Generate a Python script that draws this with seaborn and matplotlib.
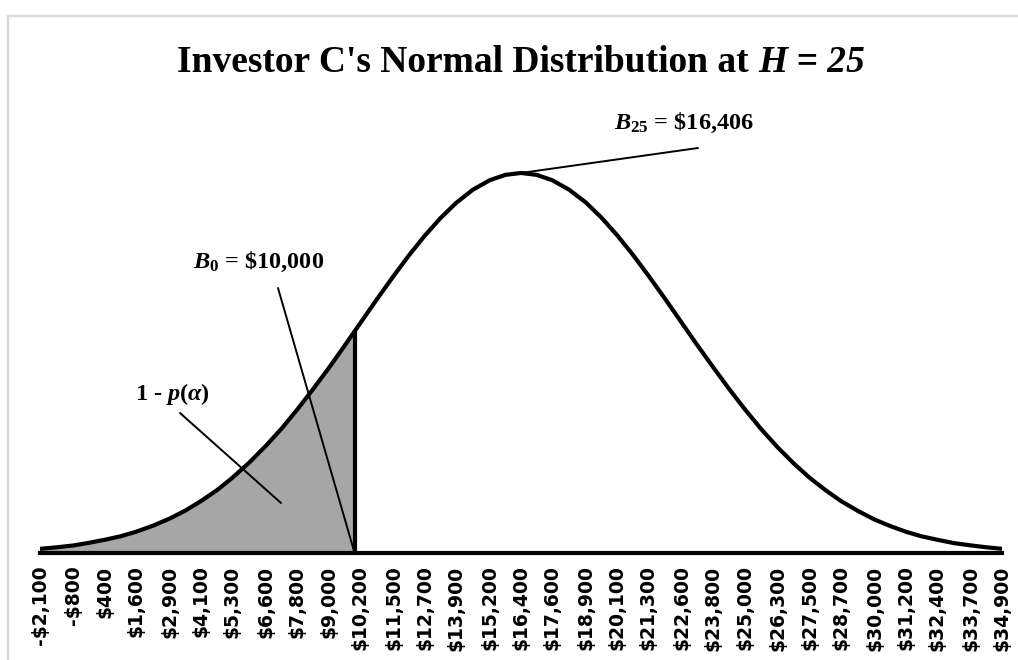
import matplotlib
matplotlib.use("Agg")
import matplotlib.pyplot as plt
import seaborn as sns
import pandas as pd
from matplotlib.lines import Line2D

# ---- data ----
tick_labels = ["-$2,100", "-$800", "$400", "$1,600", "$2,900", "$4,100", "$5,300",
               "$6,600", "$7,800", "$9,000", "$10,200", "$11,500", "$12,700",
               "$13,900", "$15,200", "$16,400", "$17,600", "$18,900", "$20,100",
               "$21,300", "$22,600", "$23,800", "$25,000", "$26,300", "$27,500",
               "$28,700", "$30,000", "$31,200", "$32,400", "$33,700", "$34,900"]
tick_values = [-2100, -800, 400, 1600, 2900, 4100, 5300, 6600, 7800, 9000, 10200,
               11500, 12700, 13900, 15200, 16400, 17600, 18900, 20100, 21300, 22600,
               23800, 25000, 26300, 27500, 28700, 30000, 31200, 32400, 33700, 34900]
# curve points: wealth and relative density (peak = 1)
curve_wealth = [-2100, -1450, -800, -200, 400, 1000, 1600, 2250, 2900, 3500, 4100,
                4700, 5300, 5950, 6600, 7200, 7800, 8400, 9000, 9600, 10200, 10850,
                11500, 12100, 12700, 13300, 13900, 14550, 15200, 15800, 16400, 17000,
                17600, 18250, 18900, 19500, 20100, 20700, 21300, 21950, 22600, 23200,
                23800, 24400, 25000, 25650, 26300, 26900, 27500, 28100, 28700, 29350,
                30000, 30600, 31200, 31800, 32400, 33050, 33700, 34300, 34900]
curve_density = [0.011, 0.015, 0.020, 0.027, 0.035, 0.044, 0.056, 0.072, 0.091, 0.112,
                 0.137, 0.165, 0.198, 0.238, 0.283, 0.328, 0.378, 0.431, 0.486, 0.544,
                 0.603, 0.667, 0.729, 0.784, 0.835, 0.881, 0.921, 0.956, 0.981, 0.995,
                 1.000, 0.995, 0.981, 0.956, 0.922, 0.882, 0.836, 0.785, 0.730, 0.668,
                 0.604, 0.545, 0.488, 0.432, 0.379, 0.325, 0.276, 0.235, 0.198, 0.166,
                 0.137, 0.111, 0.088, 0.071, 0.056, 0.044, 0.035, 0.026, 0.020, 0.015,
                 0.011]
b0_value = 10000
b0_density = 0.583
b25_value = 16406
b25_density = 1.000

df = pd.DataFrame({"wealth": curve_wealth, "density": curve_density})

sns.set_style("white")
plt.rcParams["font.family"] = ["Liberation Serif", "DejaVu Serif"]
plt.rcParams["text.color"] = "black"
plt.rcParams["xtick.color"] = "black"
plt.rcParams["mathtext.fontset"] = "custom"
plt.rcParams["mathtext.rm"] = "Liberation Serif:bold"
plt.rcParams["mathtext.bf"] = "Liberation Serif:bold"
plt.rcParams["mathtext.it"] = "Liberation Serif:italic:bold"

W, H = 1018, 660
fig = plt.figure(figsize=(W / 100, H / 100), dpi=100)
XMIN, XMAX, YMAX = -2100, 34900, 1.192
ax_l, ax_r, ax_b, ax_t = 40, 1002, 553, 100
ax = fig.add_axes([ax_l / W, 1 - ax_b / H, (ax_r - ax_l) / W, (ax_b - ax_t) / H])

# shaded tail up to B0
shade = df[df["wealth"] < b0_value]
sx = list(shade["wealth"]) + [b0_value]
sy = list(shade["density"]) + [b0_density]
ax.fill_between(sx, 0, sy, color="#a6a6a6", lw=0, zorder=1)
ax.plot([b0_value, b0_value], [0, b0_density], color="black", lw=3, zorder=3)

sns.lineplot(data=df, x="wealth", y="density", ax=ax, color="black", lw=3,
             zorder=4, solid_capstyle="round", solid_joinstyle="round")

ax.set_xlim(XMIN, XMAX)
ax.set_ylim(0, YMAX)
ax.set_xlabel("")
ax.set_ylabel("")
ax.set_yticks([])
ax.set_xticks(tick_values)
ax.set_xticklabels(tick_labels, rotation=90, fontsize=13.5, fontweight="bold",
                   family="DejaVu Sans", color="black")
ax.tick_params(axis="x", length=0, pad=9)
for s in ["top", "left", "right"]:
    ax.spines[s].set_visible(False)
ax.spines["bottom"].set_color("black")
ax.spines["bottom"].set_linewidth(3)
ax.patch.set_alpha(0)


def px2x(px):
    return XMIN + (px - ax_l) / (ax_r - ax_l) * (XMAX - XMIN)


def py2y(py):
    return (ax_b - py) / (ax_b - ax_t) * YMAX


lp = dict(arrowstyle="-", lw=1.4, color="black", shrinkA=0, shrinkB=0)
ax.annotate("", xy=(b0_value, 0), xytext=(px2x(278), py2y(288)), arrowprops=lp)
ax.annotate("", xy=(px2x(281), py2y(503)), xytext=(px2x(180), py2y(413)), arrowprops=lp)
ax.annotate("", xy=(b25_value, b25_density), xytext=(px2x(698), py2y(148)), arrowprops=lp)

fig.text(259 / W, 1 - 262 / H, r"$B_{\mathrm{0}}$ = \$10,000", ha="center", va="center",
         fontsize=17.5, fontweight="bold")
fig.text(172 / W, 1 - 394 / H, r"1 - $p(\alpha)$", ha="center", va="center",
         fontsize=17.5, fontweight="bold")
fig.text(684 / W, 1 - 123 / H, r"$B_{\mathrm{25}}$ = \$16,406", ha="center", va="center",
         fontsize=17.5, fontweight="bold")

# title: bold upright part + bold italic part, centred over the plot area
renderer = fig.canvas.get_renderer()
base_y = 1 - 72 / H
t1 = fig.text(0, base_y, "Investor C's Normal Distribution at ",
              ha="left", va="baseline", fontsize=27, fontweight="bold")
t2 = fig.text(0, base_y, "H = 25", ha="left", va="baseline", fontsize=27,
              fontweight="bold", fontstyle="italic")
w1 = t1.get_window_extent(renderer=renderer).width
w2 = t2.get_window_extent(renderer=renderer).width
left = (ax_l + ax_r) / 2 - (w1 + w2) / 2
t1.set_x(left / W)
t2.set_x((left + w1) / W)

# light chart-area border (top and left edges visible)
fig.add_artist(Line2D([8 / W, 1], [1 - 16 / H, 1 - 16 / H], transform=fig.transFigure,
                      color="#d9d9d9", lw=1.6))
fig.add_artist(Line2D([8 / W, 8 / W], [0, 1 - 16 / H], transform=fig.transFigure,
                      color="#d9d9d9", lw=1.6))

fig.savefig("out.png", dpi=100)
